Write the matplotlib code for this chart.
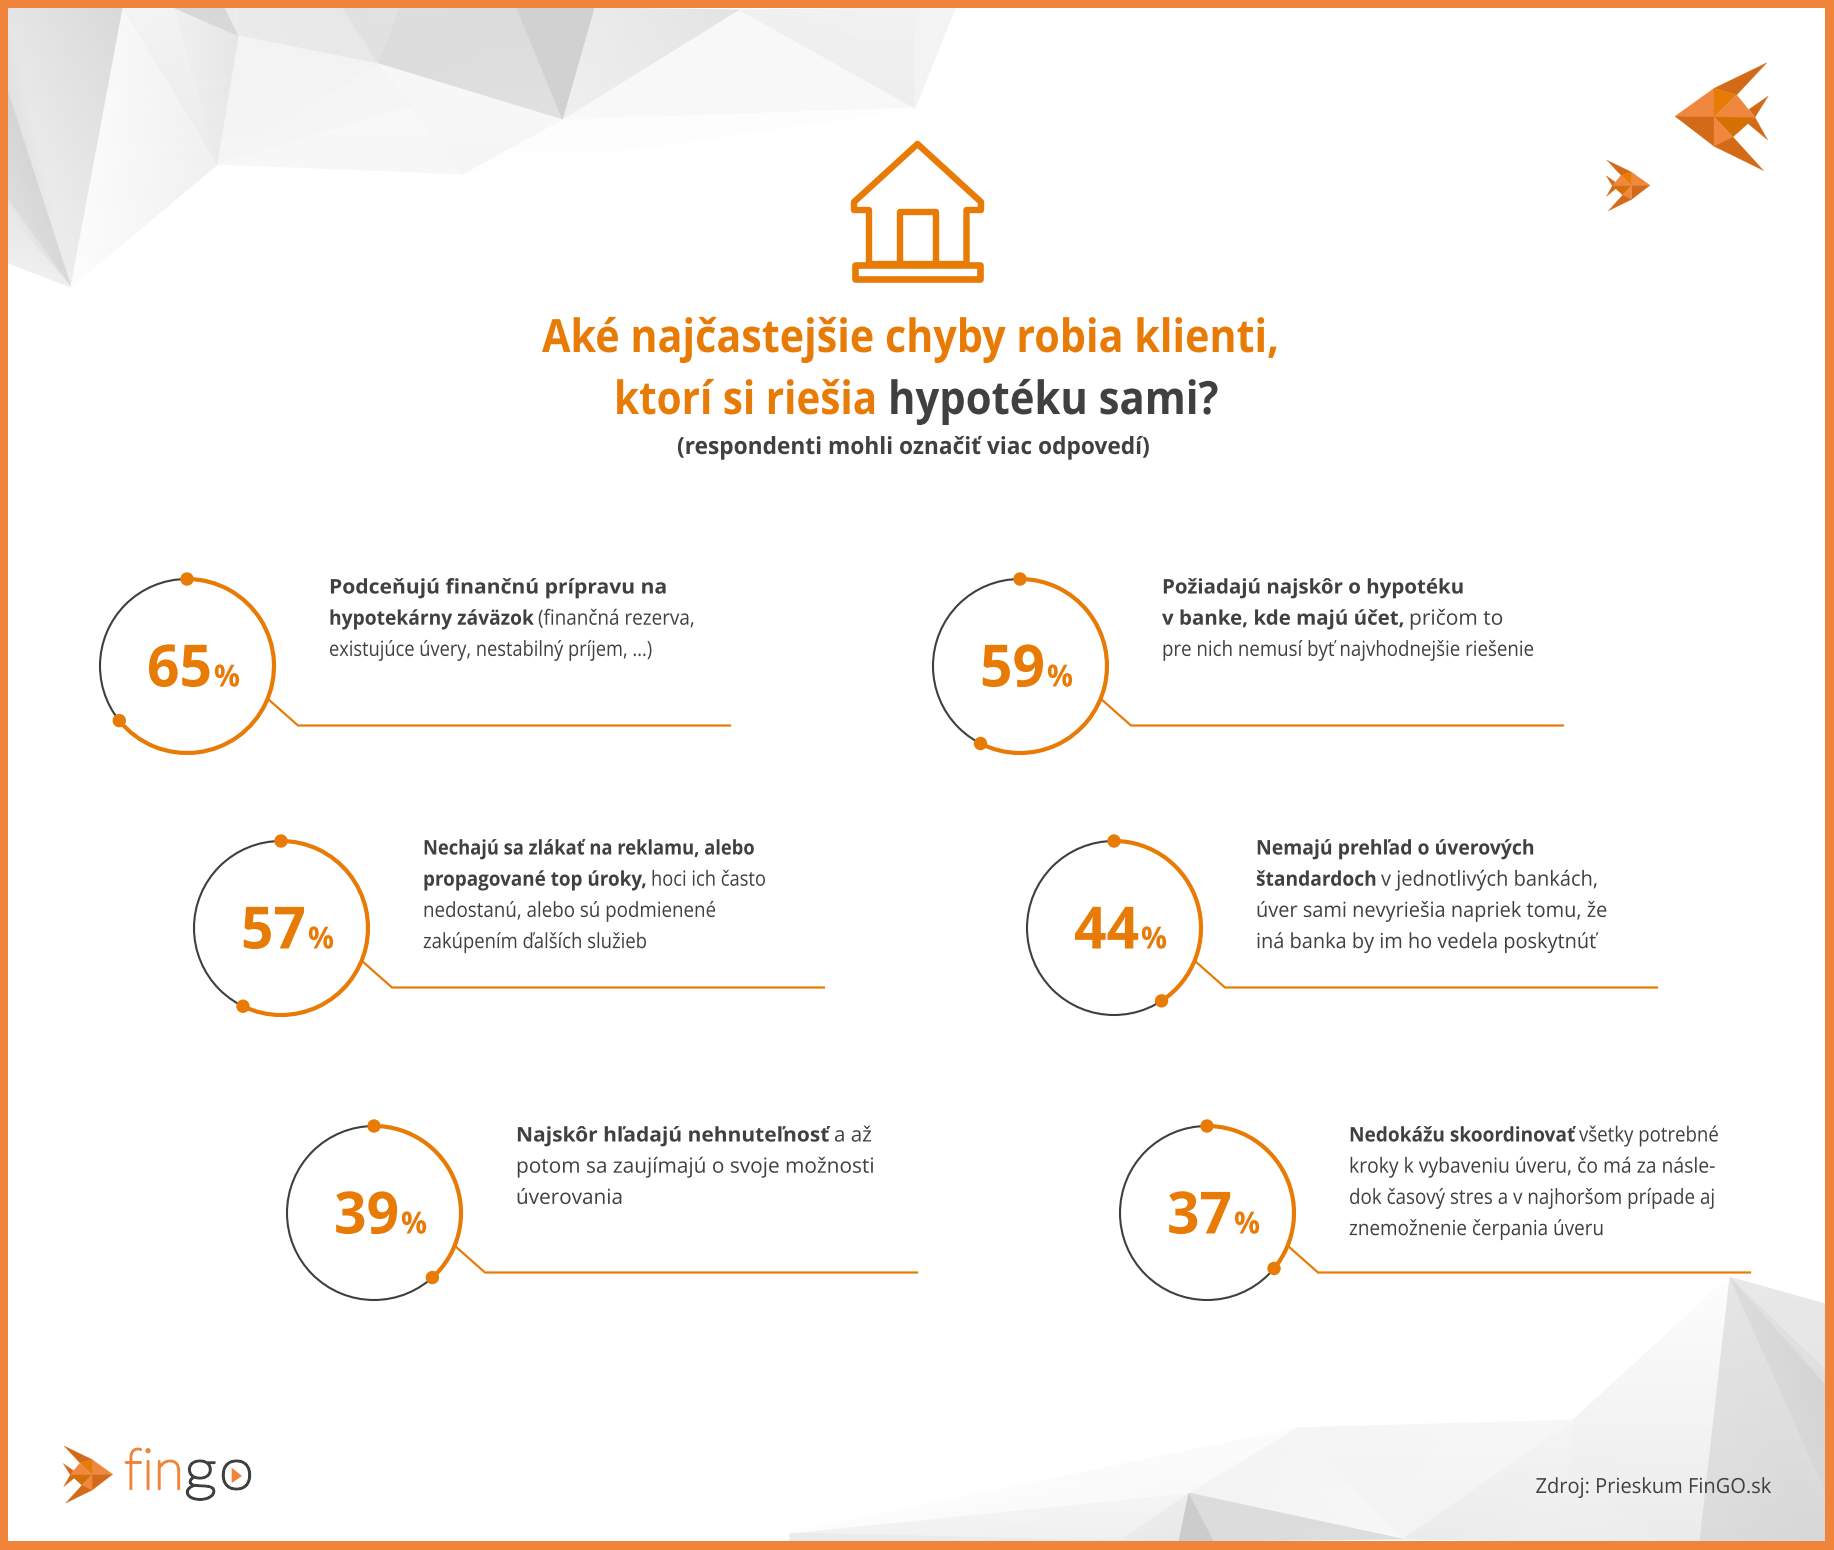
import numpy as np
import matplotlib
matplotlib.use('Agg')
import matplotlib.pyplot as plt
from matplotlib.patches import Arc, Circle, Polygon, Rectangle
from matplotlib.patheffects import AbstractPathEffect
from matplotlib.transforms import Affine2D

ORANGE = '#E87B06'
BORDER = '#F0843A'
DARK = '#404040'

# values
percents = [65, 59, 57, 44, 39, 37]
arc_share = [64.2, 57.5, 57.2, 40.8, 38.3, 36]  # how far the orange ring really goes
centers = [(187, 666), (1020, 666), (281, 928), (1114, 928), (374, 1213), (1207, 1213)]
text_top = [-72.5, -72.5, -73.5, -73.5, -71.5, -71.5]

texts = [
    [[('Podceňujú finančnú prípravu na', 1, 339)],
     [('hypotekárny záväzok', 1, 205), ('(finančná rezerva,', 0, 157)],
     [('existujúce úvery, nestabilný príjem, ...)', 0, 323)]],
    [[('Požiadajú najskôr o hypotéku', 1, 302)],
     [('v banke, kde majú účet,', 1, 243), ('pričom to', 0, 94)],
     [('pre nich nemusí byť najvhodnejšie riešenie', 0, 372)]],
    [[('Nechajú sa zlákať na reklamu, alebo', 1, 332)],
     [('propagované top úroky,', 1, 224), ('hoci ich často', 0, 115)],
     [('nedostanú, alebo sú podmienené', 0, 293)],
     [('zakúpením ďalších služieb', 0, 224)]],
    [[('Nemajú prehľad o úverových', 1, 279)],
     [('štandardoch', 1, 121), ('v jednotlivých bankách,', 0, 217)],
     [('úver sami nevyriešia napriek tomu, že', 0, 351)],
     [('iná banka by im ho vedela poskytnúť', 0, 340)]],
    [[('Najskôr hľadajú nehnuteľnosť', 1, 314), ('a až', 0, 38)],
     [('potom sa zaujímajú o svoje možnosti', 0, 358)],
     [('úverovania', 0, 107)]],
    [[('Nedokážu skoordinovať', 1, 226), ('všetky potrebné', 0, 140)],
     [('kroky k vybaveniu úveru, čo má za násle-', 0, 366)],
     [('dok časový stres a v najhoršom prípade aj', 0, 366)],
     [('znemožnenie čerpania úveru', 0, 255)]],
]

# background facets, each corner is x, y, grey
top_facets = [
    [(8, 8, .90), (123, 8, .85), (71, 287, .93)], [(8, 8, .90), (71, 287, .93), (8, 93, .88)],
    [(8, 93, .83), (71, 287, .85), (8, 200, .87)], [(8, 200, .90), (71, 287, .88), (8, 215, .92)],
    [(8, 215, .91), (71, 287, .94), (8, 263, .94)],
    [(123, 8, .97), (71, 287, .99), (218, 164, .94)],
    [(123, 8, .96), (218, 164, .92), (175, 8, .95)], [(175, 8, .94), (218, 164, .92), (239, 36, .90)],
    [(175, 8, .85), (239, 36, .85), (225, 8, .84)], [(225, 8, .92), (239, 36, .92), (240, 8, .93)],
    [(240, 8, .92), (239, 36, .92), (343, 8, .91)], [(343, 8, .91), (239, 36, .92), (379, 64, .91)],
    [(343, 8, .88), (379, 64, .88), (400, 8, .89)],
    [(400, 8, .87), (379, 64, .86), (517, 8, .86)], [(517, 8, .86), (379, 64, .86), (563, 120, .88)],
    [(517, 8, .82), (563, 120, .82), (595, 8, .82)],
    [(595, 8, .92), (563, 120, .94), (740, 10, .89)],
    [(563, 120, .975), (740, 10, .97), (915, 108, .97)],
    [(740, 10, .94), (915, 108, .93), (915, 8, .95)], [(915, 8, .95), (915, 108, .95), (955, 8, .95)],
    [(239, 36, .95), (218, 164, .96), (379, 64, .95)],
    [(218, 164, .96), (379, 64, .96), (415, 105, .96)], [(218, 164, .965), (415, 105, .97), (464, 174, .965)],
    [(379, 64, .965), (563, 120, .97), (464, 174, .96)], [(379, 64, .965), (464, 174, .96), (415, 105, .97)],
    [(464, 174, .995), (563, 120, .99), (915, 108, .995)],
]
bottom_facets = [
    [(1729, 1277, .91), (1825, 1304, .91), (1825, 1370, .90)],
    [(1729, 1277, .88), (1825, 1370, .88), (1825, 1385, .87)],
    [(1729, 1277, .86), (1825, 1385, .83), (1825, 1493, .84)],
    [(1729, 1277, .90), (1825, 1493, .86), (1825, 1541, .84)],
    [(1729, 1277, .90), (1825, 1541, .84), (1699, 1541, .86)],
    [(1729, 1277, .99), (1699, 1541, .92), (1573, 1420, .95)],
    [(1573, 1420, .95), (1699, 1541, .92), (1563, 1541, .93)],
    [(1573, 1420, .96), (1563, 1541, .93), (1402, 1539, .92)],
    [(1573, 1420, .97), (1402, 1539, .95), (1296, 1428, .96)],
    [(1296, 1428, .96), (1402, 1539, .97), (1188, 1493, .95)],
    [(1188, 1493, .86), (1402, 1539, .87), (1213, 1541, .86)],
    [(1188, 1493, .80), (1213, 1541, .80), (1178, 1541, .80)],
    [(1188, 1493, .93), (1178, 1541, .91), (1118, 1541, .92)],
    [(1188, 1493, .96), (1118, 1541, .94), (790, 1533, .95)],
    [(790, 1533, .92), (1118, 1541, .92), (790, 1541, .92)],
    [(1296, 1428, .985), (1188, 1493, .975), (790, 1533, .99)],
]

# fish outline measured from the nose on a 3x crop, nose pointing left
fish_parts = [
    ([(0, 0), (117, -84), (117, 2)], '#F0873E'),
    ([(0, 0), (117, 2), (117, 90)], '#D36A18'),
    ([(117, -84), (276, -161), (185, -64)], '#D36A18'),
    ([(117, -84), (185, -64), (117, 2)], '#E87B06'),
    ([(117, 2), (185, -64), (240, 3)], '#F0873E'),
    ([(117, 2), (240, 3), (174, 62)], '#D47004'),
    ([(117, 2), (174, 62), (117, 90)], '#F0873E'),
    ([(117, 90), (174, 62), (266, 163)], '#D36A18'),
    ([(222, -21), (280, -61), (240, 3)], '#D36A18'),
    ([(218, 21), (240, 3), (278, 71)], '#D36A18'),
]

fig = plt.figure(figsize=(18.34, 15.5), dpi=100)
ax = fig.add_axes([0, 0, 1, 1])
ax.set_xlim(0, 1834)
ax.set_ylim(1550, 0)
ax.axis('off')


class Squeeze(AbstractPathEffect):
    # the reference text is set tighter than the font, so narrow it sideways
    def __init__(self, sx, stroke=0):
        super().__init__()
        self.sx = sx
        self.stroke = stroke

    def draw_path(self, renderer, gc, tpath, affine, rgbFace=None):
        gc0 = renderer.new_gc()
        gc0.copy_properties(gc)
        if self.stroke:
            gc0.set_foreground(rgbFace)
            gc0.set_linewidth(self.stroke)
        renderer.draw_path(gc0, tpath, Affine2D().scale(self.sx, 1) + affine, rgbFace)
        gc0.restore()


def draw_facets(facets):
    pts = np.array([c for f in facets for c in f])
    tris = np.arange(len(pts)).reshape(-1, 3)
    ax.tripcolor(pts[:, 0], pts[:, 1], tris, pts[:, 2], shading='gouraud', cmap='gray', vmin=0, vmax=1, zorder=1)


def draw_fish(nx, ny, scale, flip):
    sign = -1 if flip else 1
    for pts, col in fish_parts:
        ax.add_patch(Polygon([(nx + sign * x / 3 * scale, ny + y / 3 * scale) for x, y in pts], fc=col, ec=col, lw=0.2, zorder=3))


def fit_text(x, y, s, width, size, color=DARK, weight='normal', family='Open Sans', stroke=0):
    t = ax.text(x, y, s, family=family, weight=weight, fontsize=size, color=color, va='baseline', zorder=5)
    w = t.get_window_extent(fig.canvas.get_renderer()).width
    t.set_path_effects([Squeeze(width / w, stroke)])
    return t


def draw_line(x, y, runs):
    for s, bold, w in runs:
        fit_text(x, y, s, w, 14.5 if bold else 15, weight='bold' if bold else 'normal')
        x += w + 4


draw_facets(top_facets)
draw_facets(bottom_facets)

for r in [(0, 0, 1834, 8), (0, 1541, 1834, 9), (0, 0, 8, 1550), (1825, 0, 9, 1550)]:
    ax.add_patch(Rectangle((r[0], r[1]), r[2], r[3], fc=BORDER, ec='none', zorder=2))

# house
house = [(854, 210), (854, 202), (917.5, 144), (981, 202), (981, 210), (966.5, 210), (966.5, 264), (869, 264), (869, 210)]
ax.add_patch(Polygon(house, closed=True, fc='none', ec=ORANGE, lw=4.6, joinstyle='round', zorder=4))
ax.add_patch(Rectangle((855, 264.5), 125, 14, fc='none', ec=ORANGE, lw=4.8, joinstyle='round', zorder=4))
ax.add_patch(Polygon([(899.5, 264), (899.5, 212), (935.5, 212), (935.5, 264)], closed=False, fc='none', ec=ORANGE, lw=4.6, joinstyle='round', zorder=4))

# title
fit_text(542, 352, 'Aké najčastejšie chyby robia klienti,', 738, 33, ORANGE, 'bold')
fit_text(614, 414, 'ktorí si riešia', 263, 33, ORANGE, 'bold')
fit_text(888, 414, 'hypotéku sami?', 331, 33, DARK, 'bold')
fit_text(677, 454, '(respondenti mohli označiť viac odpovedí)', 473, 17, DARK, 'bold')

for i, (cx, cy) in enumerate(centers):
    sweep = arc_share[i] * 3.6
    ax.add_patch(Circle((cx, cy), 87, fc='none', ec='#3F3F3F', lw=1.5, zorder=3))
    ax.add_patch(Arc((cx, cy), 174, 174, theta1=-90, theta2=-90 + sweep, ec=ORANGE, lw=3, zorder=4))
    end = np.radians(-90 + sweep)
    for a in (np.radians(-90), end):
        ax.add_patch(Circle((cx + 87 * np.cos(a), cy + 87 * np.sin(a)), 6.7, fc=ORANGE, ec='none', zorder=4))
    ax.plot([cx + 81, cx + 111, cx + 543], [cy + 33, cy + 59.5, cy + 59.5], color=ORANGE, lw=1.6, solid_joinstyle='miter', zorder=4)
    fit_text(cx - 40, cy + 20.5, str(percents[i]), 65, 42, ORANGE, 'bold')
    fit_text(cx + 27, cy + 20.5, '%', 26, 22, ORANGE, 'bold')
    for j, runs in enumerate(texts[i]):
        draw_line(cx + 142, cy + text_top[i] + j * 31.2, runs)

# fish
draw_fish(1675, 116.3, 1.0, False)
draw_fish(1650, 185.3, 0.47, True)
draw_fish(112.7, 1474.3, 0.53, True)

# logo
fit_text(124, 1489, 'fin', 60, 41, BORDER, 'light', 'Lato', 1.6)
fit_text(184, 1489, 'g', 33, 41, DARK, 'light', 'Lato', 1.6)
fit_text(219, 1489, 'o', 35, 41, DARK, 'light', 'Lato', 1.6)
ax.add_patch(Polygon([(231.7, 1467.7), (242, 1476), (231.7, 1483)], fc=BORDER, ec='none', zorder=5))

fit_text(1535.5, 1493, 'Zdroj: Prieskum FinGO.sk', 235, 15, DARK)

fig.savefig('out.png', dpi=100, facecolor='white')
